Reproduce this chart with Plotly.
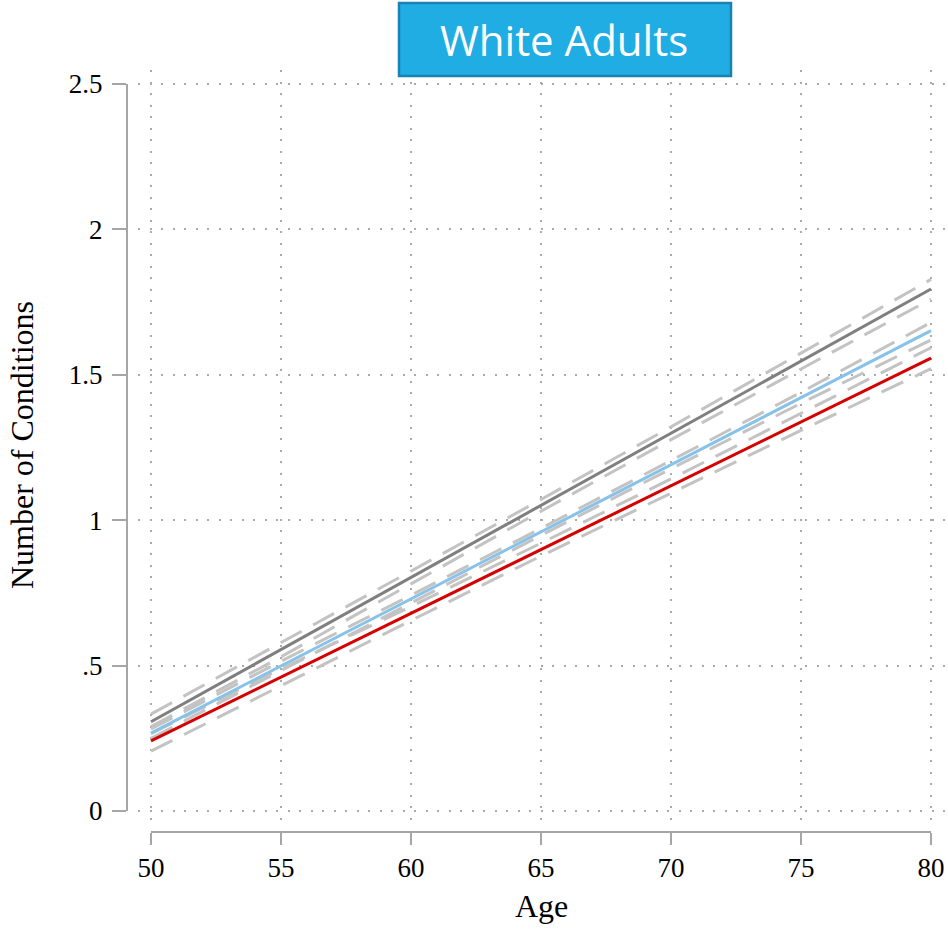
import plotly.graph_objects as go

# ---- data ----
ages = [50, 55, 60, 65, 70, 75, 80]

gray_mean = [0.307, 0.555, 0.803, 1.051, 1.299, 1.547, 1.795]
gray_hi   = [0.333, 0.580, 0.825, 1.071, 1.321, 1.574, 1.828]
gray_lo   = [0.290, 0.530, 0.781, 1.031, 1.277, 1.520, 1.760]

blue_mean = [0.268, 0.499, 0.729, 0.960, 1.191, 1.421, 1.652]
blue_hi   = [0.282, 0.515, 0.742, 0.972, 1.205, 1.440, 1.680]
blue_lo   = [0.250, 0.483, 0.716, 0.948, 1.177, 1.402, 1.620]

red_mean  = [0.241, 0.460, 0.679, 0.899, 1.118, 1.338, 1.557]
red_hi    = [0.266, 0.489, 0.703, 0.921, 1.142, 1.367, 1.593]
red_lo    = [0.206, 0.431, 0.655, 0.877, 1.094, 1.309, 1.521]

x_ticks = [50, 55, 60, 65, 70, 75, 80]
y_ticks = [0, 0.5, 1, 1.5, 2, 2.5]
y_ticktext = ["0", ".5", "1", "1.5", "2", "2.5"]

title_text = "White Adults"
x_title = "Age"
y_title = "Number of Conditions"

W, H = 948, 930
def px(p):
    return p / W
def py(p):
    return 1 - p / H

fig = go.Figure()

ci_style = dict(color="#c3c3c3", width=3, dash="24px,13px")
for series in (gray_hi, gray_lo, blue_hi, blue_lo, red_hi, red_lo):
    fig.add_trace(go.Scatter(x=ages, y=series, mode="lines", line=ci_style,
                             hoverinfo="skip", showlegend=False))

for series, col in ((gray_mean, "#7f7f7f"), (blue_mean, "#87c2e9"), (red_mean, "#d50000")):
    fig.add_trace(go.Scatter(x=ages, y=series, mode="lines",
                             line=dict(color=col, width=3), showlegend=False))

# invisible trace to make the offset (Stata-style) axes appear
fig.add_trace(go.Scatter(x=[50, 80], y=[0, 2.5], mode="markers",
                         marker=dict(opacity=0), hoverinfo="skip",
                         showlegend=False, xaxis="x2", yaxis="y2"))

# plot area: x 138..946 px, y 70..822 px ; 50->151, 80->931 ; 0->811, 2.5->84
xppu = (931 - 151) / 30.0
yppu = (811 - 84) / 2.5
x_range = [50 - (151 - 138) / xppu, 80 + (946 - 931) / xppu]
y_range = [0 - (822 - 811) / yppu, 2.5 + (84 - 70) / yppu]

axis_font = dict(family="Liberation Serif", size=27, color="#000000")
grid = dict(showgrid=True, gridcolor="#aaaaaa", gridwidth=1.6, griddash="2px,9.5px",
            showticklabels=False, ticks="", zeroline=False, showline=False,
            automargin=False)

fig.update_layout(
    width=W, height=H,
    margin=dict(l=0, r=0, t=0, b=0, pad=0),
    paper_bgcolor="white", plot_bgcolor="rgba(0,0,0,0)",
    xaxis=dict(domain=[px(138), px(946)], range=x_range, tickmode="array",
               tickvals=x_ticks, **grid),
    yaxis=dict(domain=[py(822), py(70)], range=y_range, tickmode="array",
               tickvals=y_ticks, **grid),
    xaxis2=dict(domain=[px(151), px(931)], range=[50, 80], anchor="free",
                position=py(832), side="bottom", showgrid=False, zeroline=False,
                showline=True, linecolor="#a6a6a6", linewidth=2,
                ticks="outside", ticklen=12, tickwidth=2, tickcolor="#a6a6a6",
                tickmode="array", tickvals=x_ticks, automargin=False,
                ticktext=[str(v) for v in x_ticks], tickfont=axis_font,
                ticklabelstandoff=0),
    yaxis2=dict(domain=[py(811), py(84)], range=[0, 2.5], anchor="free",
                position=px(127), side="left", showgrid=False, zeroline=False,
                showline=True, linecolor="#a6a6a6", linewidth=2,
                ticks="outside", ticklen=14, tickwidth=2, tickcolor="#a6a6a6",
                tickmode="array", tickvals=y_ticks, ticktext=y_ticktext,
                tickfont=axis_font, ticklabelstandoff=4, automargin=False),
    shapes=[dict(type="rect", xref="paper", yref="paper",
                 x0=px(399), x1=px(731), y0=py(76), y1=py(3),
                 fillcolor="#1fade4", line=dict(color="#1883b3", width=2.5))],
    annotations=[
        dict(text=title_text, xref="paper", yref="paper", x=px(564), y=py(39),
             xanchor="center", yanchor="middle", showarrow=False,
             font=dict(family="Open Sans", size=42, color="white")),
        dict(text=x_title, xref="paper", yref="paper", x=px(541), y=py(906),
             xanchor="center", yanchor="middle", showarrow=False,
             font=dict(family="Liberation Serif", size=32, color="black")),
        dict(text=y_title, xref="paper", yref="paper", x=px(22), y=py(445),
             xanchor="center", yanchor="middle", showarrow=False, textangle=-90,
             font=dict(family="Liberation Serif", size=32, color="black")),
    ],
)

fig.write_html("out.html", config={"displayModeBar": False},
               post_script="document.body.style.margin='0px';")
